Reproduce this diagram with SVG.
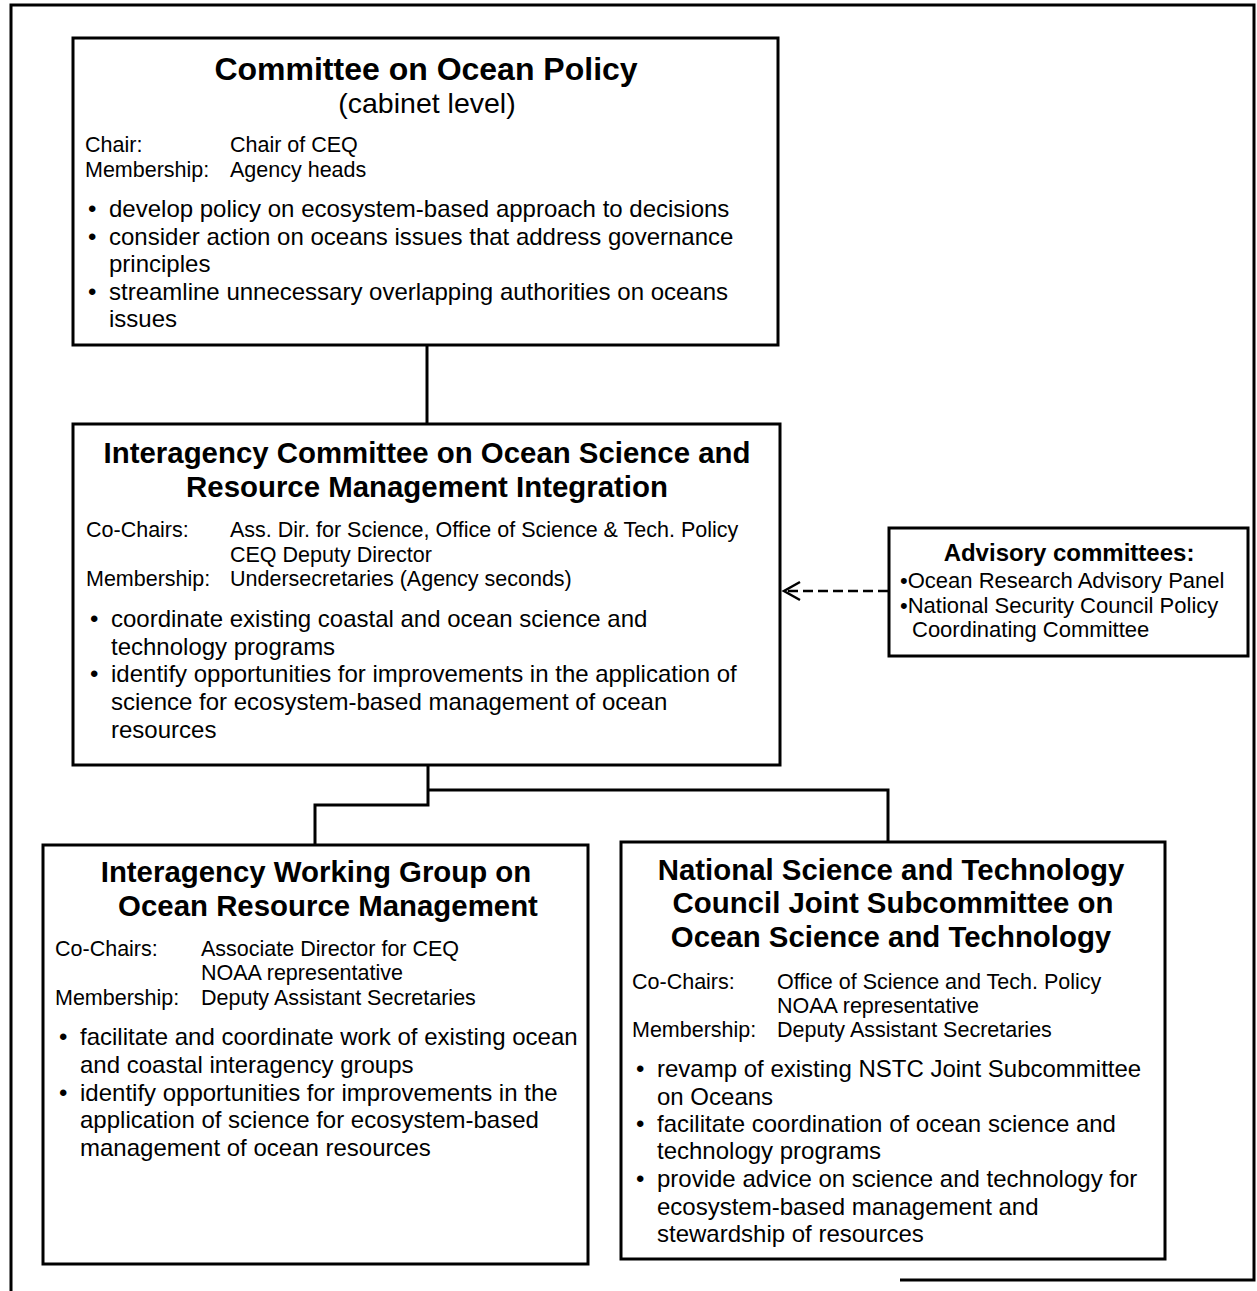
<svg xmlns="http://www.w3.org/2000/svg" width="1257" height="1291" viewBox="0 0 1257 1291">
<style>
text{font-family:"Liberation Sans",Arial,Helvetica,sans-serif;fill:#000}
.t1{font-size:32px;font-weight:bold;text-anchor:middle}
.t2{font-size:29.4px;font-weight:bold;text-anchor:middle}
.sub{font-size:28.5px;text-anchor:middle}
.lb{font-size:21.5px}
.bl{font-size:24px}
.at{font-size:24px;font-weight:bold;text-anchor:middle}
.ab{font-size:22px}
.box{fill:#fff;stroke:#000;stroke-width:3}
.ln{fill:none;stroke:#000;stroke-width:3}
</style>
<path class="ln" d="M11,1291 V5 H1254 V1280 H900"/>
<g id="connectors">
<path class="ln" d="M427,345 V424"/>
<path class="ln" d="M428,765 V805 H315 V845"/>
<path class="ln" d="M428,790 H888 V842"/>
<path fill="none" stroke="#000" stroke-width="2.5" stroke-dasharray="10,5" d="M888,591 H786"/>
<polyline fill="none" stroke="#000" stroke-width="2.5" points="800,582 784,591 800,600"/>
</g>
<g id="committee-ocean-policy">
<rect class="box" x="73" y="38" width="705" height="307"/>
<text class="t1" x="426" y="80">Committee on Ocean Policy</text>
<text class="sub" x="427" y="113">(cabinet level)</text>
<text class="lb" x="85" y="152">Chair:</text>
<text class="lb" x="230" y="152">Chair of CEQ</text>
<text class="lb" x="85" y="177">Membership:</text>
<text class="lb" x="230" y="177">Agency heads</text>
<text class="bl" x="88" y="217">•</text>
<text class="bl" x="109" y="217">develop policy on ecosystem-based approach to decisions</text>
<text class="bl" x="88" y="245">•</text>
<text class="bl" x="109" y="245">consider action on oceans issues that address governance</text>
<text class="bl" x="109" y="272">principles</text>
<text class="bl" x="88" y="300">•</text>
<text class="bl" x="109" y="300">streamline unnecessary overlapping authorities on oceans</text>
<text class="bl" x="109" y="327">issues</text>
</g>
<g id="interagency-committee">
<rect class="box" x="73" y="424" width="707" height="341"/>
<text class="t2" x="427" y="463">Interagency Committee on Ocean Science and</text>
<text class="t2" x="427" y="497">Resource Management Integration</text>
<text class="lb" x="86" y="537">Co-Chairs:</text>
<text class="lb" x="230" y="537">Ass. Dir. for Science, Office of Science &amp; Tech. Policy</text>
<text class="lb" x="230" y="562">CEQ Deputy Director</text>
<text class="lb" x="86" y="586">Membership:</text>
<text class="lb" x="230" y="586">Undersecretaries (Agency seconds)</text>
<text class="bl" x="90" y="627">•</text>
<text class="bl" x="111" y="627">coordinate existing coastal and ocean science and</text>
<text class="bl" x="111" y="655">technology programs</text>
<text class="bl" x="90" y="682">•</text>
<text class="bl" x="111" y="682">identify opportunities for improvements in the application of</text>
<text class="bl" x="111" y="710">science for ecosystem-based management of ocean</text>
<text class="bl" x="111" y="738">resources</text>
</g>
<g id="advisory-committees">
<rect class="box" x="889" y="528" width="359" height="128"/>
<text class="at" x="1069" y="561">Advisory committees:</text>
<text class="ab" x="900" y="588">•Ocean Research Advisory Panel</text>
<text class="ab" x="900" y="613">•National Security Council Policy</text>
<text class="ab" x="912" y="637">Coordinating Committee</text>
</g>
<g id="working-group">
<rect class="box" x="43" y="845" width="545" height="419"/>
<text class="t2" x="316" y="882">Interagency Working Group on</text>
<text class="t2" x="328" y="916">Ocean Resource Management</text>
<text class="lb" x="55" y="956">Co-Chairs:</text>
<text class="lb" x="201" y="956">Associate Director for CEQ</text>
<text class="lb" x="201" y="980">NOAA representative</text>
<text class="lb" x="55" y="1005">Membership:</text>
<text class="lb" x="201" y="1005">Deputy Assistant Secretaries</text>
<text class="bl" x="59" y="1045">•</text>
<text class="bl" x="80" y="1045">facilitate and coordinate work of existing ocean</text>
<text class="bl" x="80" y="1073">and coastal interagency groups</text>
<text class="bl" x="59" y="1101">•</text>
<text class="bl" x="80" y="1101">identify opportunities for improvements in the</text>
<text class="bl" x="80" y="1128">application of science for ecosystem-based</text>
<text class="bl" x="80" y="1156">management of ocean resources</text>
</g>
<g id="nstc-subcommittee">
<rect class="box" x="621" y="842" width="544" height="417"/>
<text class="t2" x="891" y="880">National Science and Technology</text>
<text class="t2" x="893" y="913">Council Joint Subcommittee on</text>
<text class="t2" x="891" y="947">Ocean Science and Technology</text>
<text class="lb" x="632" y="989">Co-Chairs:</text>
<text class="lb" x="777" y="989">Office of Science and Tech. Policy</text>
<text class="lb" x="777" y="1013">NOAA representative</text>
<text class="lb" x="632" y="1037">Membership:</text>
<text class="lb" x="777" y="1037">Deputy Assistant Secretaries</text>
<text class="bl" x="636" y="1077">•</text>
<text class="bl" x="657" y="1077">revamp of existing NSTC Joint Subcommittee</text>
<text class="bl" x="657" y="1105">on Oceans</text>
<text class="bl" x="636" y="1132">•</text>
<text class="bl" x="657" y="1132">facilitate coordination of ocean science and</text>
<text class="bl" x="657" y="1159">technology programs</text>
<text class="bl" x="636" y="1187">•</text>
<text class="bl" x="657" y="1187">provide advice on science and technology for</text>
<text class="bl" x="657" y="1215">ecosystem-based management and</text>
<text class="bl" x="657" y="1242">stewardship of resources</text>
</g>
</svg>
